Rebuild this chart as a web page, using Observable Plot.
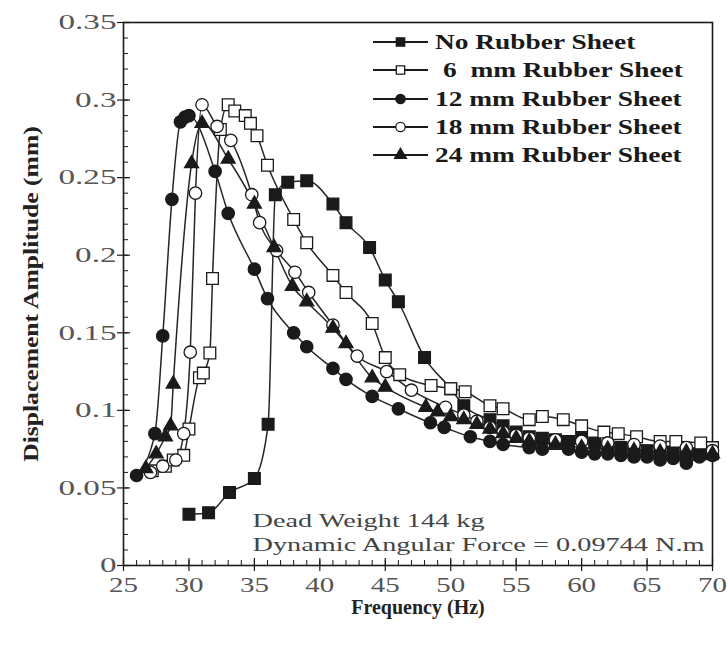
<!DOCTYPE html>
<html><head><meta charset="utf-8">
<script src="https://cdn.jsdelivr.net/npm/d3@7"></script>
<script src="https://cdn.jsdelivr.net/npm/@observablehq/plot@0.6"></script>
<style>body{margin:0;background:#fff} #chart{width:727px;height:646px}</style>
</head><body><div id="chart"></div>
<script>
// ---- data ----
const noneF = [30, 31.5, 33.1, 35, 36.05, 36.6, 37.55, 39, 41, 42, 43.8, 45, 46, 48, 50, 51, 53, 54, 55, 56, 57, 58, 59, 60, 61, 62, 63, 64, 65, 66, 67, 68, 69, 70];
const noneA = [0.033, 0.034, 0.047, 0.056, 0.091, 0.239, 0.247, 0.248, 0.233, 0.221, 0.205, 0.184, 0.170, 0.134, 0.114, 0.103, 0.094, 0.090, 0.086, 0.083, 0.082, 0.081, 0.080, 0.082, 0.079, 0.077, 0.076, 0.075, 0.074, 0.073, 0.073, 0.072, 0.072, 0.072];

const mm6F = [27.2, 28.2, 28.8, 29.6, 30, 30.8, 31.1, 31.6, 31.8, 32.4, 33, 33.5, 34.3, 34.7, 35.2, 36, 38, 39, 41, 42, 44, 45, 46.1, 48.5, 50, 51.1, 53, 54, 56, 57, 58.6, 60, 61.7, 62.8, 64.2, 66, 67.2, 69.1, 70];
const mm6A = [0.061, 0.064, 0.068, 0.071, 0.088, 0.121, 0.124, 0.137, 0.185, 0.281, 0.297, 0.293, 0.290, 0.285, 0.277, 0.258, 0.223, 0.208, 0.187, 0.176, 0.156, 0.134, 0.123, 0.116, 0.114, 0.112, 0.103, 0.101, 0.094, 0.096, 0.094, 0.090, 0.086, 0.085, 0.083, 0.080, 0.080, 0.079, 0.076];

const mm12F = [26, 27.4, 28, 28.7, 29.35, 29.7, 30, 32, 33, 35, 36, 38, 39, 41, 42, 44, 46, 48.45, 49.5, 51.5, 53, 54, 56, 57, 59, 60, 61, 62, 63, 64, 65, 66, 67, 68, 69, 70];
const mm12A = [0.058, 0.085, 0.148, 0.236, 0.286, 0.289, 0.290, 0.254, 0.227, 0.191, 0.172, 0.150, 0.141, 0.127, 0.120, 0.109, 0.101, 0.092, 0.089, 0.083, 0.080, 0.078, 0.076, 0.075, 0.075, 0.073, 0.072, 0.072, 0.071, 0.070, 0.070, 0.068, 0.069, 0.066, 0.070, 0.071];

const mm18F = [27.06, 28, 29, 29.6, 30.1, 30.5, 31, 32.15, 33.2, 34.8, 35.4, 36.7, 38.1, 39.15, 41, 42.85, 45.1, 47, 49.6, 51, 52, 53, 54, 55, 56, 58, 60, 62, 64, 66, 68, 70];
const mm18A = [0.060, 0.064, 0.068, 0.085, 0.1375, 0.240, 0.297, 0.283, 0.274, 0.239, 0.221, 0.203, 0.189, 0.176, 0.155, 0.135, 0.125, 0.113, 0.102, 0.097, 0.093, 0.089, 0.086, 0.084, 0.082, 0.081, 0.080, 0.079, 0.078, 0.077, 0.076, 0.074];

const mm24F = [26.7, 27.5, 28.2, 28.6, 28.8, 30.2, 31, 33, 35, 36.5, 37.9, 39, 41, 42, 44, 45, 48.1, 49, 50, 51, 52, 53, 54, 55, 56, 58, 60, 62, 64, 66, 68, 70];
const mm24A = [0.0625, 0.072, 0.083, 0.090, 0.117, 0.259, 0.285, 0.262, 0.233, 0.205, 0.180, 0.170, 0.153, 0.143, 0.121, 0.115, 0.102, 0.099, 0.096, 0.094, 0.091, 0.088, 0.085, 0.082, 0.080, 0.078, 0.076, 0.075, 0.074, 0.073, 0.073, 0.072];

const seriesNames = ["No Rubber Sheet", "6  mm Rubber Sheet", "12 mm Rubber Sheet", "18 mm Rubber Sheet", "24 mm Rubber Sheet"];
const xTicks = [25, 30, 35, 40, 45, 50, 55, 60, 65, 70];
const yTicks = [0, 0.05, 0.1, 0.15, 0.2, 0.25, 0.3, 0.35];
const xLabel = "Frequency (Hz)";
const yLabel = "Displacement Amplitude (mm)";
const notes = ["Dead Weight 144 kg", "Dynamic Angular Force = 0.09744 N.m"];

// ---- build ----
const W = 727, H = 646;
const mL = 123, mR = 15, mT = 22, mB = 81;
const FW = W - mL - mR, FH = H - mT - mB;
const ink = "#1a1a1a";
const styles = [
  {symbol: "square", fill: ink, r: 6.6},
  {symbol: "square", fill: "white", r: 6.6},
  {symbol: "circle", fill: ink, r: 6.2},
  {symbol: "circle", fill: "white", r: 6.2},
  {symbol: "triangle", fill: ink, r: 5.2}
];
const fs = [noneF, mm6F, mm12F, mm18F, mm24F];
const as = [noneA, mm6A, mm12A, mm18A, mm24A];
const series = seriesNames.map((name, k) => ({name, ...styles[k], rows: fs[k].map((f, i) => ({f, a: as[k][i]}))}));

const xMinor = d3.range(25, 71, 1);
const yMinor = d3.range(0, 36, 1).map(d => d / 100);

const marks = [
  Plot.tickY(yMinor, {y: d => d, insetRight: FW - 5, stroke: ink, strokeWidth: 1}),
  Plot.tickY(yTicks, {y: d => d, insetLeft: -6, insetRight: FW - 7, stroke: ink, strokeWidth: 1.2}),
  Plot.tickX(xMinor, {x: d => d, insetTop: FH - 5, stroke: ink, strokeWidth: 1}),
  Plot.tickX(xTicks, {x: d => d, insetTop: FH - 7, insetBottom: -6, stroke: ink, strokeWidth: 1.2}),
  Plot.frame({stroke: ink, strokeWidth: 1.6}),
  ...series.map(s => Plot.line(s.rows, {x: "f", y: "a", curve: "monotone-x", stroke: "#262626", strokeWidth: 1.5})),
  ...series.map(s => Plot.dot(s.rows, {x: "f", y: "a", symbol: s.symbol, r: s.r, fill: s.fill, stroke: ink, strokeWidth: 1.3})),
  Plot.text(yTicks, {y: d => d, text: d => String(d), frameAnchor: "left", dx: -7, textAnchor: "end", fill: "#555", fontSize: 21, className: "stretch-ytick"}),
  Plot.text(xTicks, {x: d => d, text: d => String(d), frameAnchor: "bottom", dy: 20, lineAnchor: "middle", fill: "#555", fontSize: 21, className: "stretch-xtick"}),
  Plot.text([xLabel], {frameAnchor: "bottom", dy: 42, lineAnchor: "middle", textAnchor: "middle", fontWeight: "bold", fontSize: 20, fill: "#222"}),
  Plot.text([yLabel], {frameAnchor: "left", dx: -92, rotate: -90, lineAnchor: "middle", textAnchor: "middle", fontWeight: "bold", fontSize: 20, fill: "#222", className: "stretch-ylabel"}),
  Plot.text([notes[0]], {frameAnchor: "bottom-left", dx: 129, dy: -39, lineAnchor: "bottom", textAnchor: "start", fill: "#444", fontSize: 19, className: "stretch-note"}),
  Plot.text([notes[1]], {frameAnchor: "bottom-left", dx: 129, dy: -15, lineAnchor: "bottom", textAnchor: "start", fill: "#444", fontSize: 19, className: "stretch-note"})
];

const svg = Plot.plot({
  width: W, height: H,
  marginLeft: mL, marginRight: mR, marginTop: mT, marginBottom: mB,
  x: {domain: [25, 70], axis: null},
  y: {domain: [0, 0.35], axis: null},
  style: {fontFamily: "'Liberation Serif', 'Times New Roman', serif", background: "white", overflow: "visible"},
  marks
});

// legend (inside the frame, top right)
const lg = d3.select(svg).append("g").attr("class", "stretch-legend").attr("text-anchor", "start");
const x0 = 373, x1 = 428, tx = 435, rowY = [42, 70, 99, 127, 155];
series.forEach((s, k) => {
  const y = rowY[k];
  lg.append("line").attr("x1", x0).attr("x2", x1).attr("y1", y).attr("y2", y).attr("stroke", ink).attr("stroke-width", 1.8);
  const sym = s.symbol === "square" ? d3.symbolSquare : s.symbol === "circle" ? d3.symbolCircle : d3.symbolTriangle;
  lg.append("path").attr("d", d3.symbol(sym, s.symbol === "triangle" ? 60 : 70)()).attr("transform", `translate(${(x0 + x1) / 2},${y})`)
    .attr("fill", s.fill).attr("stroke", ink).attr("stroke-width", 1.3);
  lg.append("text").attr("x", tx + (k === 1 ? 8 : 0)).attr("y", y).attr("dy", "0.34em").attr("text-anchor", "start")
    .attr("font-weight", "bold").attr("font-size", 20).attr("fill", "#1a1a1a").style("white-space", "pre")
    .text(s.name);
});

// horizontal stretch of the glyphs (the reference's text is visibly widened)
const stretch = {"stretch-ytick": 1.58, "stretch-xtick": 1.38, "stretch-note": 1.49, "stretch-legend": 1.37, "stretch-ylabel": 1.28};
svg.querySelectorAll("text").forEach(t => {
  let K = null;
  for (const c in stretch) if (t.closest("." + c)) K = stretch[c];
  if (!K) return;
  const g = document.createElementNS("http://www.w3.org/2000/svg", "g");
  const tr = t.getAttribute("transform") || "";
  const x = +(t.getAttribute("x") || 0);
  g.setAttribute("transform", `${tr} translate(${x},0) scale(${K},1) translate(${-x},0)`);
  t.removeAttribute("transform");
  t.parentNode.insertBefore(g, t);
  g.appendChild(t);
});

document.getElementById("chart").appendChild(svg);
</script>
</body></html>
